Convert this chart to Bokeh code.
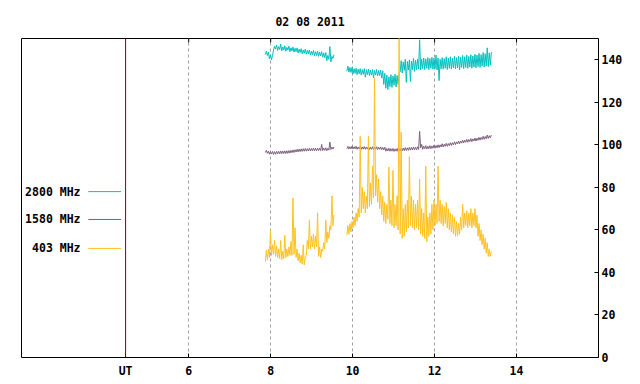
import numpy as np
from bokeh.plotting import figure
from bokeh.models import Range1d, FixedTicker, Span
from bokeh.embed import file_html
from bokeh.resources import INLINE
from bokeh.core.properties import value

# ---------------- data ----------------
title_text = "02 08 2011"
series_names = ["2800 MHz", "1580 MHz", "403 MHz"]

# two recording segments (UT hours); every 0.05 h bin holds its low and high reading
seg1_start, seg1_end = 7.87, 9.52
seg2_start, seg2_end = 9.86, 13.36

f2800_seg1_lo = [142.5, 142.0, 140.5, 140.0, 144.6, 145.0, 144.4, 144.8, 144.2, 144.6,
                 144.0, 144.6, 143.8, 144.2, 143.6, 143.8, 143.2, 143.4, 142.8, 143.0,
                 142.6, 142.8, 142.2, 142.4, 141.8, 142.0, 141.6, 141.8, 141.2, 141.0,
                 139.6, 140.2, 139.0, 140.6]
f2800_seg1_hi = [144.0, 143.6, 142.4, 142.0, 146.4, 147.0, 146.2, 147.4, 146.0, 146.6,
                 145.8, 146.4, 145.6, 146.0, 145.4, 145.6, 145.0, 145.2, 144.6, 145.0,
                 144.4, 144.6, 144.0, 144.4, 143.8, 144.0, 143.6, 143.8, 143.2, 143.4,
                 142.0, 146.2, 141.6, 142.4]
f2800_seg2_lo = [134.6, 134.2, 134.0, 133.4, 133.6, 133.0, 133.4, 132.8, 133.2, 131.8,
                 133.0, 132.6, 132.8, 131.6, 132.8, 132.4, 132.6, 131.4, 128.4, 126.6,
                 126.0, 127.4, 127.0, 128.0, 127.2, 128.4, 134.2, 133.8, 135.0, 129.4,
                 135.2, 129.8, 135.4, 134.6, 135.4, 135.6, 135.2, 135.8, 135.4, 136.0,
                 135.4, 136.0, 135.6, 135.8, 135.2, 130.2, 135.8, 135.6, 136.0, 135.4,
                 136.0, 135.6, 136.2, 135.8, 136.2, 135.2, 136.4, 135.8, 136.4, 136.0,
                 136.6, 136.0, 136.6, 136.2, 136.8, 136.4, 137.0, 136.6, 137.0, 136.8,
                 137.4]
f2800_seg2_hi = [137.0, 136.4, 136.4, 135.8, 136.0, 135.6, 135.8, 135.4, 135.8, 135.4,
                 135.6, 135.2, 135.4, 135.0, 135.4, 135.0, 135.2, 134.8, 133.6, 132.8,
                 132.0, 133.0, 132.4, 133.2, 132.6, 134.0, 139.6, 139.0, 140.2, 139.2,
                 140.0, 139.4, 140.6, 139.8, 140.4, 149.4, 140.2, 140.8, 140.4, 141.0,
                 140.6, 141.2, 140.8, 142.2, 140.8, 140.2, 141.0, 140.6, 141.4, 140.8,
                 141.4, 140.8, 141.6, 141.0, 141.6, 141.2, 142.0, 141.4, 142.2, 141.6,
                 142.4, 141.8, 142.6, 142.2, 143.0, 142.4, 143.4, 142.8, 145.6, 143.2,
                 143.6]

f1580_seg1_lo = [96.4, 96.0, 95.6, 95.7, 95.5, 95.6, 95.7, 95.8, 95.8, 95.9,
                 95.9, 96.0, 96.1, 96.3, 96.4, 96.6, 96.7, 96.8, 96.9, 97.0,
                 97.0, 97.1, 97.1, 97.2, 97.2, 97.2, 97.3, 97.3, 97.3, 97.4,
                 97.2, 97.5, 97.8, 98.0]
f1580_seg1_hi = [97.4, 97.0, 96.8, 96.9, 96.8, 96.9, 97.0, 97.1, 97.1, 97.2,
                 97.2, 97.3, 97.4, 97.6, 97.7, 97.9, 98.0, 98.1, 98.2, 98.3,
                 98.2, 98.4, 98.3, 98.5, 98.4, 98.4, 98.5, 100.2, 98.5, 98.6,
                 98.4, 101.3, 98.9, 99.0]
f1580_seg2_lo = [98.2, 98.0, 98.1, 98.0, 98.1, 97.9, 98.0, 97.9, 98.0, 97.9,
                 98.0, 97.8, 97.9, 97.8, 97.9, 97.8, 97.9, 97.7, 97.6, 97.0,
                 97.1, 97.0, 97.0, 96.9, 97.0, 96.9, 97.1, 97.2, 97.3, 97.3,
                 97.4, 97.5, 97.6, 97.6, 97.7, 97.8, 98.6, 97.9, 98.2, 98.0,
                 98.2, 98.2, 98.4, 98.4, 98.6, 98.7, 99.0, 99.0, 99.3, 99.3,
                 99.6, 99.7, 100.0, 100.1, 100.4, 100.5, 100.8, 100.9, 101.2, 101.2,
                 101.5, 101.5, 101.8, 101.8, 102.1, 102.2, 102.5, 102.6, 102.9, 103.0,
                 103.3]
f1580_seg2_hi = [99.3, 99.1, 99.3, 99.1, 99.3, 99.0, 99.2, 99.0, 99.2, 99.0,
                 99.2, 98.9, 99.1, 98.9, 99.1, 98.9, 99.0, 98.8, 98.9, 98.3,
                 98.4, 98.2, 98.3, 98.1, 98.3, 98.2, 98.4, 98.5, 98.7, 98.6,
                 98.8, 98.8, 99.0, 98.9, 99.1, 106.3, 100.2, 99.3, 99.6, 99.3,
                 99.6, 99.5, 99.8, 99.7, 100.0, 100.0, 100.5, 100.3, 100.7, 100.6,
                 101.0, 101.0, 101.4, 101.4, 101.8, 101.8, 102.2, 102.2, 102.6, 102.5,
                 102.9, 102.8, 103.2, 103.1, 103.5, 103.5, 104.0, 103.9, 104.6, 104.3,
                 104.6]

f403_seg1_lo = [45.0, 46.0, 47.0, 48.0, 48.5, 47.5, 47.0, 46.5, 46.0, 46.5,
                47.0, 47.5, 48.0, 48.0, 48.5, 47.0, 45.5, 44.5, 44.0, 43.5,
                48.0, 51.0, 51.0, 52.0, 51.0, 52.0, 47.5, 47.0, 50.0, 51.0,
                54.0, 56.0, 60.0, 62.0]
f403_seg1_hi = [50.5, 51.0, 59.8, 53.0, 55.0, 52.5, 51.0, 55.0, 50.0, 57.5,
                51.0, 52.0, 54.5, 75.0, 61.0, 51.0, 49.0, 48.0, 53.0, 47.0,
                55.0, 64.5, 57.0, 58.0, 57.0, 68.0, 52.0, 51.0, 54.0, 64.5,
                59.0, 62.0, 76.0, 67.0]
f403_seg2_lo = [57.5, 58.0, 59.0, 61.0, 62.0, 64.0, 66.0, 68.0, 70.0, 68.0,
                70.0, 71.0, 72.0, 75.0, 76.0, 73.0, 70.0, 67.0, 64.0, 63.0,
                65.0, 63.0, 62.0, 61.0, 62.0, 60.0, 58.0, 56.0, 57.0, 59.0,
                61.0, 62.0, 61.0, 60.0, 61.0, 60.0, 58.0, 57.0, 56.0, 54.5,
                57.0, 58.0, 60.0, 62.0, 63.0, 64.0, 63.0, 62.0, 63.0, 61.0,
                60.0, 59.0, 58.0, 57.0, 57.0, 58.0, 60.0, 61.0, 62.0, 61.0,
                62.0, 61.0, 62.0, 61.0, 57.0, 55.0, 53.0, 51.0, 49.0, 47.5,
                47.5]
f403_seg2_hi = [62.0, 63.0, 64.0, 66.0, 68.0, 70.0, 104.0, 80.0, 78.0, 76.0,
                104.0, 82.0, 90.0, 131.5, 86.0, 84.0, 78.0, 76.0, 73.0, 72.0,
                89.5, 74.0, 88.0, 72.0, 76.0, 155.0, 106.0, 70.0, 72.0, 74.0,
                94.5, 76.0, 74.0, 72.0, 74.0, 84.0, 70.0, 68.0, 90.0, 66.0,
                68.0, 72.0, 74.0, 72.0, 90.0, 74.0, 72.0, 71.0, 73.0, 70.0,
                68.0, 67.0, 66.0, 64.0, 63.0, 66.0, 72.0, 68.0, 69.0, 68.0,
                70.0, 68.0, 70.0, 67.0, 63.0, 60.0, 58.0, 56.0, 54.0, 51.0,
                50.0]

x_ticks = [6, 8, 10, 12, 14]
ut_label = "UT"
ut_pos = 4.46
y_ticks = [0, 20, 40, 60, 80, 100, 120, 140]

# ---------------- styles / layout ----------------
colors = ["#00c0c0", "#7f5f7f", "#ffc020"]
FONT = "DejaVu Sans Mono"
FS = "11.5px"

W, H = 640, 384
BORDER_L, BORDER_R, BORDER_T, BORDER_B = 21, 42, 38, 27
X_LO, X_HI, Y_LO, Y_HI = 1.92, 16.0, 0, 150
TICK_PX = 4
frame_h = H - BORDER_T - BORDER_B
tick_len = TICK_PX * (Y_HI - Y_LO) / frame_h

legend_text_x = 3.36
legend_line_x0, legend_line_x1 = 3.55, 4.35
legend_y = [78.0, 64.9, 51.3]


def build(lo1, hi1, lo2, hi2):
    xs, ys = [], []
    for start, end, lo, hi in ((seg1_start, seg1_end, lo1, hi1), (seg2_start, seg2_end, lo2, hi2)):
        t = np.linspace(start, end, len(lo))
        half = (t[1] - t[0]) / 2.0
        for ti, a, b in zip(t, lo, hi):
            xs += [ti, ti + half]
            ys += [a, b]
        xs.append(np.nan)
        ys.append(np.nan)
    return np.array(xs[:-1]), np.array(ys[:-1])


p = figure(width=W, height=H, x_range=Range1d(X_LO, X_HI), y_range=Range1d(Y_LO, Y_HI),
           output_backend="svg", toolbar_location=None, y_axis_location="right",
           min_border_left=BORDER_L, min_border_right=BORDER_R,
           min_border_top=BORDER_T, min_border_bottom=BORDER_B)

p.background_fill_color = "white"
p.border_fill_color = "white"
p.outline_line_color = "black"
p.outline_line_width = 1
p.outline_line_alpha = 1.0

p.title.text = title_text
p.title.align = "center"
p.title.text_font = FONT
p.title.text_font_style = "bold"
p.title.text_font_size = FS
p.title.text_color = "black"
p.title.standoff = 19

# bottom axis
xa = p.xaxis[0]
xa.ticker = FixedTicker(ticks=[ut_pos] + x_ticks)
xa.major_label_overrides = {ut_pos: ut_label}
xa.major_tick_in = TICK_PX
xa.major_tick_out = 0
xa.minor_tick_line_color = None
xa.axis_line_color = None
xa.major_tick_line_color = "black"
xa.major_label_text_font = FONT
xa.major_label_text_font_style = "bold"
xa.major_label_text_font_size = FS
xa.major_label_text_color = "black"
xa.major_label_standoff = 6

# right axis
ya = p.yaxis[0]
ya.ticker = FixedTicker(ticks=y_ticks)
ya.major_tick_in = TICK_PX
ya.major_tick_out = 0
ya.minor_tick_line_color = None
ya.axis_line_color = None
ya.major_label_text_font = FONT
ya.major_label_text_font_style = "bold"
ya.major_label_text_font_size = FS
ya.major_label_text_color = "black"
ya.major_label_standoff = 3

p.xgrid.ticker = FixedTicker(ticks=x_ticks)
p.xgrid.grid_line_color = "#a0a0a0"
p.xgrid.grid_line_dash = "3 3"
p.xgrid.grid_line_width = 1
p.ygrid.visible = False

# mirrored tick marks on the top edge
p.segment(x0=x_ticks, y0=[Y_HI] * len(x_ticks), x1=x_ticks, y1=[Y_HI - tick_len] * len(x_ticks),
          line_color="black", line_width=1)

p.add_layout(Span(location=ut_pos, dimension="height", line_color="#8b0000", line_width=1))

for (lo1, hi1, lo2, hi2), c in zip([(f2800_seg1_lo, f2800_seg1_hi, f2800_seg2_lo, f2800_seg2_hi),
                                    (f1580_seg1_lo, f1580_seg1_hi, f1580_seg2_lo, f1580_seg2_hi),
                                    (f403_seg1_lo, f403_seg1_hi, f403_seg2_lo, f403_seg2_hi)], colors):
    x, y = build(lo1, hi1, lo2, hi2)
    p.line(x, y, line_color=c, line_width=1)

# legend (label left of sample line)
p.text(x=[legend_text_x] * 3, y=legend_y, text=series_names, text_align="right",
       text_baseline="middle", text_font=value(FONT), text_font_style="bold",
       text_font_size=FS, text_color="black")
p.segment(x0=[legend_line_x0] * 3, y0=legend_y, x1=[legend_line_x1] * 3, y1=legend_y,
          line_color=colors, line_width=1)

open("out.html", "w").write(file_html(p, INLINE))
